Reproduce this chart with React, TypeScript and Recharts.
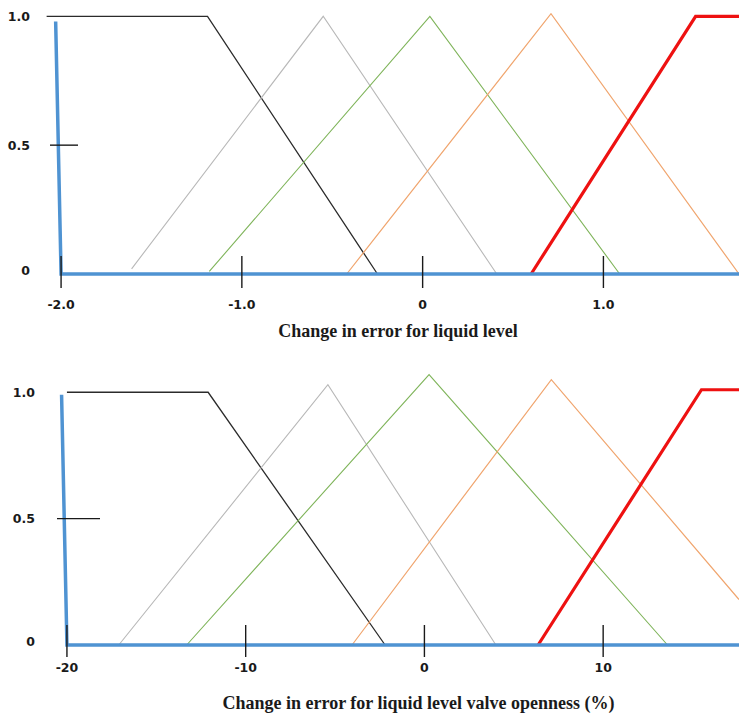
import React from 'react';
import { LineChart, Line, XAxis, YAxis } from 'recharts';

// membership functions, upper panel (change in error for liquid level)
const topXTicks = [-2, -1, 0, 1];
const topXLabels = ['-2.0', '-1.0', '0', '1.0'];
const topAxisLine = [{ x: -2.03, y: 0.98 }, { x: -2, y: 0 }, { x: 1.75, y: 0 }];
const topBlack = [{ x: -2.08, y: 1 }, { x: -1.19, y: 1 }, { x: -0.25, y: 0 }];
const topGray = [{ x: -1.61, y: 0.02 }, { x: -0.55, y: 1.0 }, { x: 0.41, y: 0 }];
const topGreen = [{ x: -1.18, y: 0.01 }, { x: 0.04, y: 1.0 }, { x: 1.09, y: 0 }];
const topOrange = [{ x: -0.42, y: 0 }, { x: 0.71, y: 1.01 }, { x: 1.75, y: 0 }];
const topRed = [{ x: 0.6, y: 0 }, { x: 1.51, y: 1 }, { x: 1.75, y: 1 }];

// lower panel (valve openness, %)
const botXTicks = [-20, -10, 0, 10];
const botXLabels = ['-20', '-10', '0', '10'];
const botAxisLine = [{ x: -20.3, y: 0.99 }, { x: -20, y: 0 }, { x: 17.6, y: 0 }];
const botBlack = [{ x: -20, y: 1 }, { x: -12.1, y: 1 }, { x: -2.2, y: 0 }];
const botGray = [{ x: -17.1, y: 0 }, { x: -5.4, y: 1.03 }, { x: 4.0, y: 0 }];
const botGreen = [{ x: -13.3, y: 0 }, { x: 0.26, y: 1.07 }, { x: 13.6, y: 0 }];
const botOrange = [{ x: -4.05, y: 0 }, { x: 7.1, y: 1.05 }, { x: 17.6, y: 0.18 }];
const botRed = [{ x: 6.36, y: 0 }, { x: 15.5, y: 1.01 }, { x: 17.6, y: 1.01 }];

const yTicks = [0, 0.5, 1];
const yLabels = ['0', '0.5', '1.0'];

const sans = '"DejaVu Sans", Verdana, sans-serif';
const serif = '"Liberation Serif", "Times New Roman", serif';

const lookup = (ticks: number[], labels: string[]) => (v: number) => labels[ticks.indexOf(v)] ?? String(v);

const XTick = (props: any) => {
  const { x, y, payload, fmt, up, down, labelDy } = props;
  return (
    <g>
      <line x1={x} x2={x} y1={y - up} y2={y + down} stroke="#1a1a1a" strokeWidth={1.4} />
      <text x={x} y={y + labelDy} textAnchor="middle" dominantBaseline="central"
        style={{ fontFamily: sans, fontWeight: 700, fontSize: 12.5 }} fill="#1a1a1a">
        {fmt(payload.value)}
      </text>
    </g>
  );
};

const YTick = (props: any) => {
  const { x, y, payload, labelX, markFrom, markTo } = props;
  const v = payload.value;
  return (
    <g>
      {v === 0.5 && (
        <line x1={x + markFrom} x2={x + markTo} y1={y} y2={y} stroke="#1a1a1a" strokeWidth={1.4} />
      )}
      <text x={labelX} y={v === 0 ? y - 4 : y} textAnchor="end" dominantBaseline="central"
        style={{ fontFamily: sans, fontWeight: 700, fontSize: 12.5 }} fill="#1a1a1a">
        {lookup(yTicks, yLabels)(v)}
      </text>
    </g>
  );
};

const Panel = ({ height, top, xAxisHeight, yAxisWidth, xDomain, yDomain, xTicks, xLabels, title, titleDx, titleOffset,
  tickUp, tickDown, labelDy, labelX, markFrom, markTo, series }: any) => (
  <LineChart width={739} height={height} margin={{ top, right: 0, bottom: 0, left: 0 }}>
    <XAxis type="number" dataKey="x" domain={xDomain} ticks={xTicks} interval={0}
      axisLine={false} tickLine={false} tickSize={0} tickMargin={0} height={xAxisHeight}
      tick={<XTick fmt={lookup(xTicks, xLabels)} up={tickUp} down={tickDown} labelDy={labelDy} />}
      label={{ value: title, position: 'insideBottom', offset: titleOffset, dx: titleDx,
        style: { fontFamily: serif, fontWeight: 700, fontSize: 18, fill: '#1a1a1a' } }} />
    <YAxis type="number" dataKey="y" domain={yDomain} ticks={yTicks} interval={0} width={yAxisWidth}
      axisLine={false} tickLine={false} tickSize={0} tickMargin={0}
      tick={<YTick labelX={labelX} markFrom={markFrom} markTo={markTo} />} />
    <Line data={series.black} dataKey="y" stroke="#2b2b2b" strokeWidth={1.3} dot={false} isAnimationActive={false} />
    <Line data={series.gray} dataKey="y" stroke="#b8b8b8" strokeWidth={1.1} dot={false} isAnimationActive={false} />
    <Line data={series.green} dataKey="y" stroke="#7fb45a" strokeWidth={1.1} dot={false} isAnimationActive={false} />
    <Line data={series.orange} dataKey="y" stroke="#f0a56e" strokeWidth={1.2} dot={false} isAnimationActive={false} />
    <Line data={series.red} dataKey="y" stroke="#ee1111" strokeWidth={3.2} dot={false} isAnimationActive={false} />
    <Line data={series.axis} dataKey="y" stroke="#4f93d2" strokeWidth={3.5} dot={false} isAnimationActive={false} />
  </LineChart>
);

export default function App() {
  return (
    <div style={{ position: 'absolute', left: 0, top: 0, width: 739, height: 715, background: '#fff' }}>
      <Panel height={345} top={6} xAxisHeight={71} yAxisWidth={43} xDomain={[-2.1, 1.75]} yDomain={[0, 1.04]}
        xTicks={topXTicks} xLabels={topXLabels} title="Change in error for liquid level"
        titleDx={7} titleOffset={8} tickUp={18} tickDown={14} labelDy={30}
        labelX={30} markFrom={7} markTo={35}
        series={{ black: topBlack, gray: topGray, green: topGreen, orange: topOrange, red: topRed, axis: topAxisLine }} />
      <Panel height={370} top={22} xAxisHeight={70} yAxisWidth={58} xDomain={[-20.5, 17.6]} yDomain={[0, 1.1]}
        xTicks={botXTicks} xLabels={botXLabels} title="Change in error for liquid level valve openness (%)"
        titleDx={20} titleOffset={6} tickUp={20} tickDown={12} labelDy={22}
        labelX={35} markFrom={-1} markTo={42}
        series={{ black: botBlack, gray: botGray, green: botGreen, orange: botOrange, red: botRed, axis: botAxisLine }} />
    </div>
  );
}
